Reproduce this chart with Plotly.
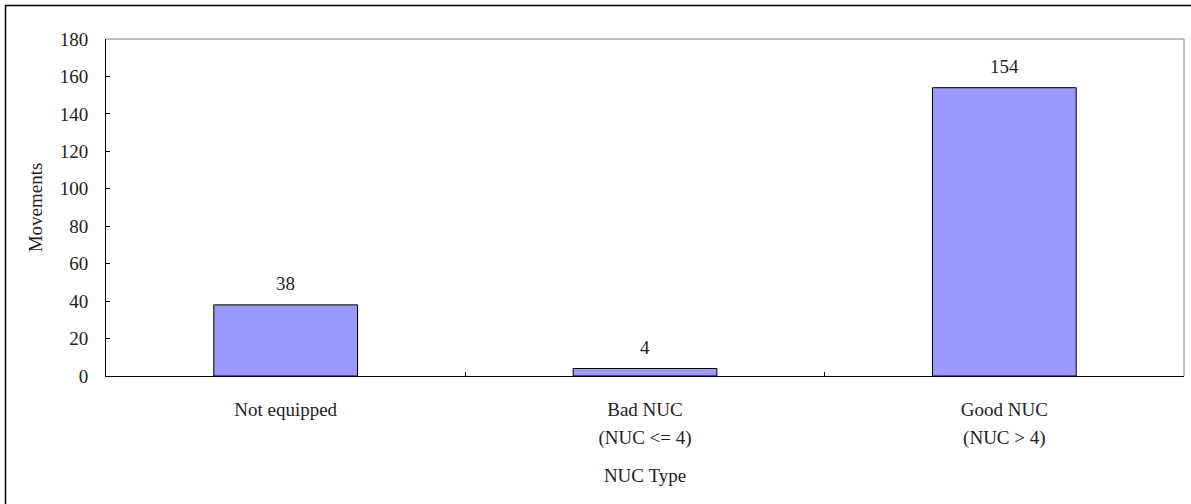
import plotly.graph_objects as go

# Movements per NUC type
label_line1 = ["Not equipped", "Bad NUC", "Good NUC"]
label_line2 = ["", "(NUC &lt;= 4)", "(NUC &gt; 4)"]
movements = [38, 4, 154]
y_ticks = [0, 20, 40, 60, 80, 100, 120, 140, 160, 180]

W, H = 1191, 504
L, R, T, B = 106, 7, 39, 128
pw, ph = W - L - R, H - T - B

FONT = "Liberation Serif"
FS = 19
pos = list(range(len(movements)))

fig = go.Figure()
fig.add_trace(go.Bar(
    x=pos, y=movements, width=0.4,
    marker=dict(color="#9999FF", line=dict(color="black", width=1)),
    hoverinfo="skip", showlegend=False,
))
# invisible trace that carries the second row of category labels
fig.add_trace(go.Scatter(x=pos, y=[0] * len(pos), xaxis="x2", mode="markers",
                         marker=dict(opacity=0), showlegend=False, hoverinfo="skip"))

for x, v in zip(pos, movements):
    fig.add_annotation(x=x, y=v, text=str(v), showarrow=False, yanchor="bottom",
                       yshift=9, font=dict(family=FONT, size=FS, color="#222"))

fig.update_layout(
    width=W, height=H,
    margin=dict(l=L, r=R, t=T, b=B),
    paper_bgcolor="white", plot_bgcolor="white",
    font=dict(family=FONT, size=FS, color="#222"),
    xaxis=dict(
        range=[-0.5, 2.5], tickvals=pos, ticktext=label_line1, ticks="",
        showline=True, linecolor="black", linewidth=1, showgrid=False, zeroline=False,
        ticklabelstandoff=16,
        minor=dict(tickvals=[0.5, 1.5], ticks="inside", ticklen=4, tickcolor="black",
                   showgrid=False),
        title=dict(text="NUC Type", standoff=49, font=dict(family=FONT, size=FS)),
    ),
    xaxis2=dict(
        overlaying="x", range=[-0.5, 2.5], tickvals=pos, ticktext=label_line2, ticks="",
        showline=False, showgrid=False, zeroline=False, ticklabelstandoff=48,
    ),
    yaxis=dict(
        range=[0, 180], tickvals=y_ticks, ticks="inside", ticklen=4, tickcolor="black",
        showline=True, linecolor="black", linewidth=1, showgrid=False, zeroline=False,
        ticklabelstandoff=13,
        title=dict(text="Movements", standoff=12, font=dict(family=FONT, size=FS)),
    ),
    shapes=[
        # plot-area frame on top and right
        dict(type="line", xref="paper", yref="paper", x0=0, x1=1, y0=1, y1=1,
             line=dict(color="#808080", width=1)),
        dict(type="line", xref="paper", yref="paper", x0=1, x1=1, y0=0, y1=1,
             line=dict(color="#808080", width=1)),
        # outer chart border
        dict(type="rect", xref="paper", yref="paper",
             x0=(5.5 - L) / pw, x1=(W + 5 - L) / pw,
             y0=(T + ph - (H + 5)) / ph, y1=(T + ph - 5.5) / ph,
             line=dict(color="black", width=1.5), fillcolor="rgba(0,0,0,0)"),
    ],
)

fig.write_html("out.html")
